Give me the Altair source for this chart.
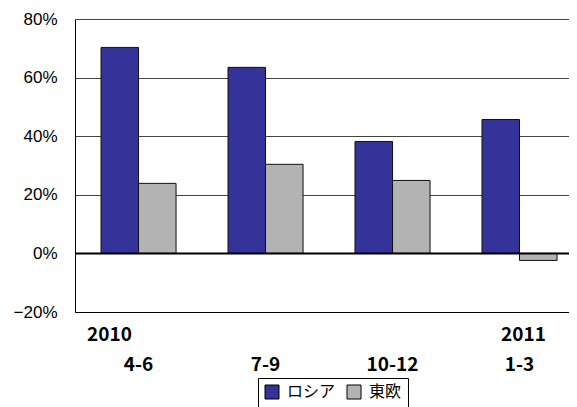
import altair as alt
import pandas as pd

quarters = ["4-6", "7-9", "10-12", "1-3"]
years = ["2010", "", "", "2011"]
russia = [0.703, 0.635, 0.382, 0.457]
east_europe = [0.239, 0.304, 0.249, -0.024]
series = ["ロシア", "東欧"]
colors = ["#333399", "#b3b3b3"]
y_ticks = [-0.2, 0.0, 0.2, 0.4, 0.6, 0.8]

rows = []
for q, r, e in zip(quarters, russia, east_europe):
    rows.append({"cat": q, "series": series[0], "value": r})
    rows.append({"cat": q, "series": series[1], "value": e})
df = pd.DataFrame(rows)

year_df = pd.DataFrame({"cat": quarters, "year": years, "bottom": [y_ticks[0]] * len(quarters)})

x_enc = alt.X(
    "cat:N",
    sort=quarters,
    title=None,
    scale=alt.Scale(paddingInner=0.409, paddingOuter=0.1495, align=0.685),
    axis=alt.Axis(
        labelAngle=0,
        labelFont="Noto Sans CJK JP",
        labelFontWeight="bold",
        labelFontSize=19,
        labelColor="black",
        labelPadding=43,
        labelBaseline="top",
        ticks=False,
        domain=True,
        domainColor="black",
        domainWidth=1,
        grid=False,
    ),
)

bars = alt.Chart(df).mark_bar(stroke="#111111", strokeWidth=1).encode(
    x=x_enc,
    xOffset=alt.XOffset("series:N", sort=series, scale=alt.Scale(paddingInner=0, paddingOuter=0)),
    y=alt.Y(
        "value:Q",
        title=None,
        scale=alt.Scale(domain=[-0.2, 0.8], nice=False, zero=False),
        axis=alt.Axis(
            values=y_ticks,
            format=".0%",
            labelFont="Liberation Sans",
            labelFontSize=17,
            labelColor="black",
            labelPadding=18,
            ticks=False,
            domain=True,
            domainColor="black",
            domainWidth=1,
            grid=True,
            gridColor="#444444",
            gridWidth=1,
        ),
    ),
    color=alt.Color(
        "series:N",
        sort=series,
        scale=alt.Scale(domain=series, range=colors),
        legend=alt.Legend(
            title=None,
            orient="none",
            legendX=183,
            legendY=359,
            direction="horizontal",
            symbolType="square",
            symbolSize=196,
            symbolStrokeColor="black",
            symbolStrokeWidth=1,
            symbolOpacity=1,
            labelFont="Noto Sans CJK JP",
            labelFontSize=16,
            labelColor="black",
            labelOffset=7,
            columnPadding=9,
            padding=6,
            strokeColor="black",
            fillColor="white",
        ),
    ),
)

zero = alt.Chart(pd.DataFrame({"v": [0.0]})).mark_rule(color="black", strokeWidth=2).encode(
    y=alt.Y("v:Q")
)

year_text = dict(font="Noto Sans CJK JP", fontWeight="bold", fontSize=19, color="black", baseline="top", dy=14)

year_2010 = (
    alt.Chart(year_df)
    .transform_filter(alt.datum.year == years[0])
    .mark_text(dx=-29, **year_text)
    .encode(x=alt.X("cat:N", sort=quarters), y=alt.Y("bottom:Q"), text="year:N")
)
year_2011 = (
    alt.Chart(year_df)
    .transform_filter(alt.datum.year == years[3])
    .mark_text(dx=4, **year_text)
    .encode(x=alt.X("cat:N", sort=quarters), y=alt.Y("bottom:Q"), text="year:N")
)

chart = (
    alt.layer(bars, zero, year_2010, year_2011)
    .properties(
        width=494,
        height=293,
        autosize=alt.AutoSizeParams(type="none"),
        padding={"left": 67, "top": 11, "right": 0, "bottom": 100},
    )
    .configure_view(stroke=None)
    .configure(background="white")
)

chart.save("out.html", embed_options={"renderer": "svg", "actions": False})
